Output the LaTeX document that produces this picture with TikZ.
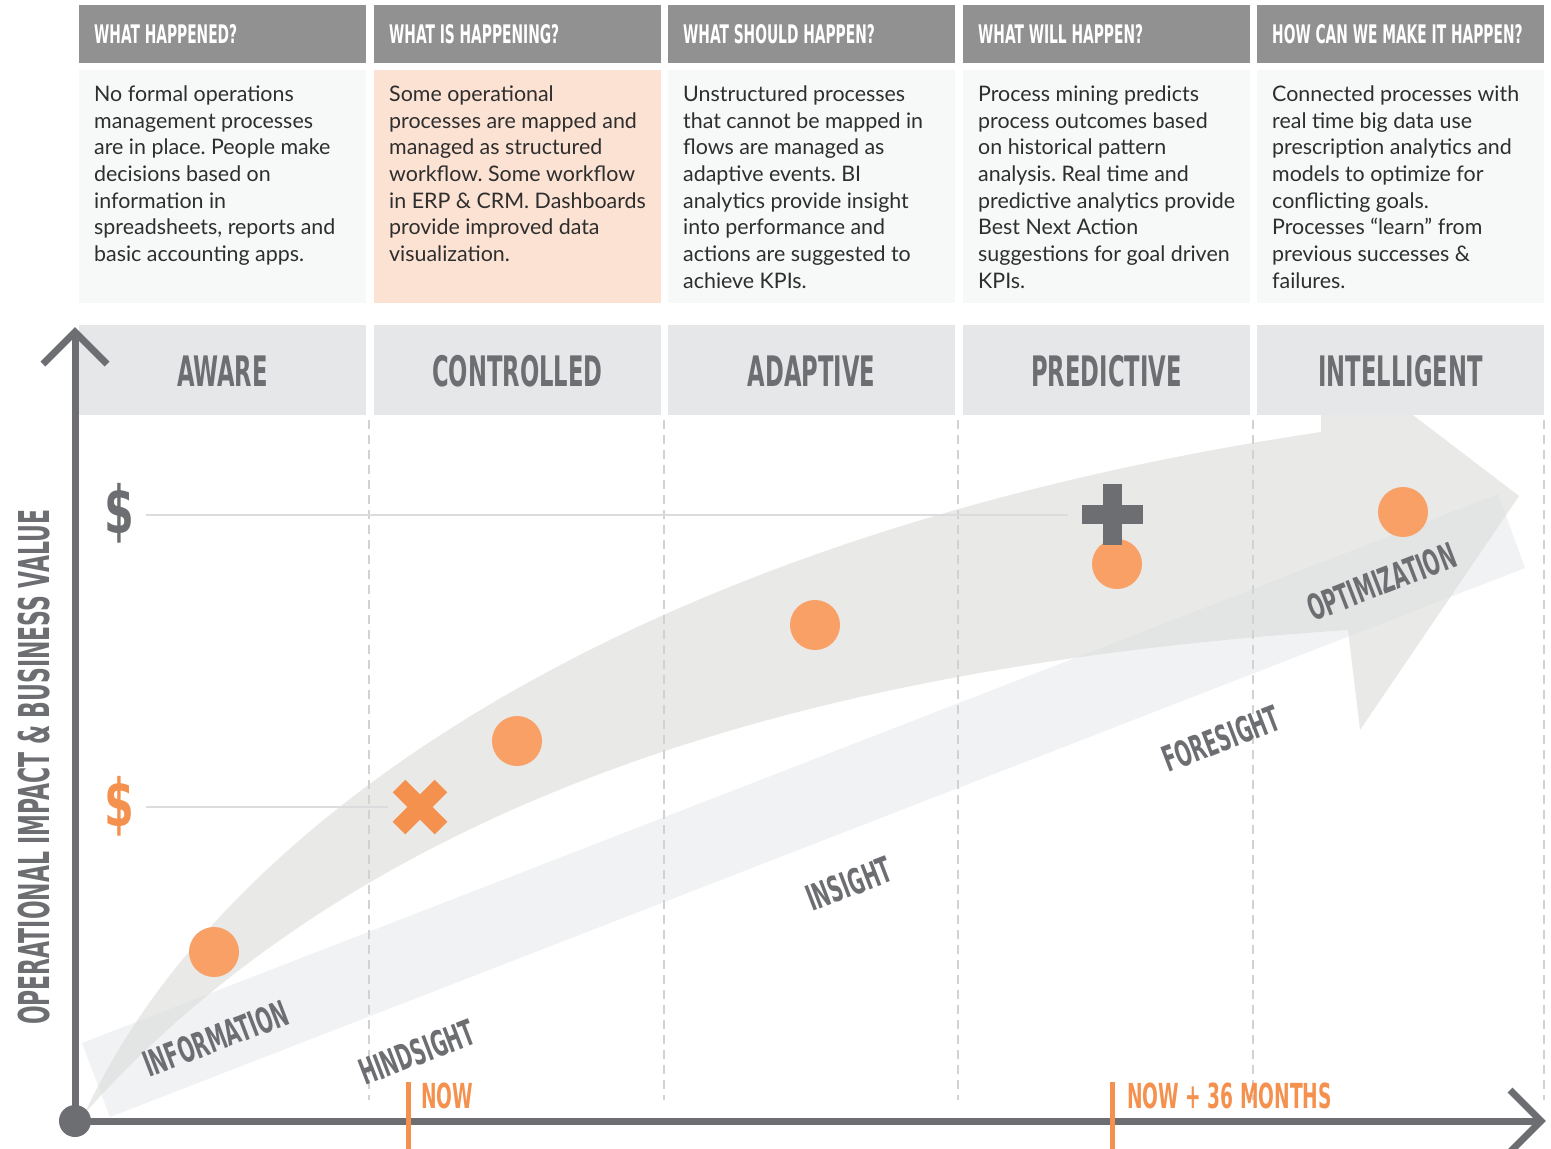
\documentclass[tikz,border=0pt]{standalone}
\usepackage{fontspec}
\usepackage{graphicx}
\setmainfont{Lato}
\newfontfamily\bebas[FakeStretch=0.6]{DejaVu Sans Condensed Bold}
\definecolor{hdrgray}{HTML}{919191}
\definecolor{boxbg}{HTML}{F7F8F8}
\definecolor{peach}{HTML}{FCE2D3}
\definecolor{stagebg}{HTML}{E6E7E8}
\definecolor{axgray}{HTML}{6D6E71}
\definecolor{bodytxt}{HTML}{2E2E2E}
\definecolor{arrowfill}{HTML}{E9E9E7}
\definecolor{bandfill}{HTML}{DCE0E4}
\definecolor{sepgray}{HTML}{D2D2D2}
\definecolor{guidegray}{HTML}{DCDCDF}
\definecolor{dotorange}{HTML}{F9A066}
\definecolor{orangetwo}{HTML}{F5914F}
\frenchspacing
\begin{document}
\begin{tikzpicture}[x=1pt,y=-1pt,
  hdr/.style={fill=hdrgray, minimum width=287pt, minimum height=58pt, inner sep=0pt, anchor=north west},
  bodybox/.style={fill=boxbg, minimum width=287pt, minimum height=233pt, inner sep=0pt, anchor=north west},
  hdrtext/.style={anchor=base west, inner sep=0pt, text=white, font=\bebas\fontsize{25.6}{25.6}\selectfont},
  bodytext/.style={anchor=north west, inner sep=0pt, align=left, text=bodytxt, font=\fontsize{21.4}{26.7}\selectfont},
  stagebox/.style={fill=stagebg, minimum width=287pt, minimum height=90pt, inner sep=0pt, anchor=north west},
  stagetext/.style={anchor=base, inner sep=0pt, text=axgray, font=\bebas\fontsize{42}{42}\selectfont},
  dot/.style={circle, fill=dotorange, minimum size=50pt, inner sep=0pt},
  bandlabel/.style={anchor=base west, inner sep=0pt, rotate=21, text=axgray, font=\bebas\fontsize{35.5}{35.5}\selectfont},
  colsep/.style={draw=sepgray, line width=1.3pt, dash pattern=on 9pt off 6pt},
  guide/.style={draw=guidegray, line width=1.8pt},
  axis/.style={draw=axgray, line width=7pt, miter limit=10},
  tickmark/.style={draw=orangetwo, line width=5pt},
  nowtext/.style={anchor=base west, inner sep=0pt, text=orangetwo, font=\bebas\fontsize{34.5}{34.5}\selectfont},
  dollar/.style={inner sep=0pt, font=\bebas\fontsize{66}{66}\selectfont}
]
\useasboundingbox (0,0) rectangle (1551,1149);
\fill[white] (0,0) rectangle (1551,1149);

% ---------- header row ----------
\node[hdr] (h1) at (79,5) {};
\node[hdr] (h2) at (374,5) {};
\node[hdr] (h3) at (668,5) {};
\node[hdr] (h4) at (963,5) {};
\node[hdr] (h5) at (1257,5) {};
\node[hdrtext] (ht1) at (94,43.3) {WHAT HAPPENED?};
\node[hdrtext] (ht2) at (389,43.3) {WHAT IS HAPPENING?};
\node[hdrtext] (ht3) at (683,43.3) {WHAT SHOULD HAPPEN?};
\node[hdrtext] (ht4) at (978,43.3) {WHAT WILL HAPPEN?};
\node[hdrtext] (ht5) at (1272,43.3) {HOW CAN WE MAKE IT HAPPEN?};

% ---------- description boxes ----------
\node[bodybox] (b1) at (79,70) {};
\node[bodybox, fill=peach] (b2) at (374,70) {};
\node[bodybox] (b3) at (668,70) {};
\node[bodybox] (b4) at (963,70) {};
\node[bodybox] (b5) at (1257,70) {};
\node[bodytext] (t1) at (94,82.6) {\strut No formal operations\\management processes\\are in place. People make\\decisions based on\\information in\\spreadsheets, reports and\\basic accounting apps.};
\node[bodytext] (t2) at (389,82.6) {\strut Some operational\\processes are mapped and\\managed as structured\\workflow. Some workflow\\in ERP \& CRM. Dashboards\\provide improved data\\visualization.};
\node[bodytext] (t3) at (683,82.6) {\strut Unstructured processes\\that cannot be mapped in\\flows are managed as\\adaptive events. BI\\analytics provide insight\\into performance and\\actions are suggested to\\achieve KPIs.};
\node[bodytext] (t4) at (978,82.6) {\strut Process mining predicts\\process outcomes based\\on historical pattern\\analysis. Real time and\\predictive analytics provide\\Best Next Action\\suggestions for goal driven\\KPIs.};
\node[bodytext] (t5) at (1272,82.6) {\strut Connected processes with\\real time big data use\\prescription analytics and\\models to optimize for\\conflicting goals.\\Processes “learn” from\\previous successes \&\\failures.};

% ---------- big curved arrow ----------
\fill[arrowfill] (85,1113) .. controls (210,840) and (600,540) .. (1321,432)
  -- (1321,345) -- (1519,496) -- (1360,730) -- (1348,630)
  .. controls (900,660) and (400,760) .. (85,1113) -- cycle;
% ---------- straight band ----------
\fill[bandfill, opacity=0.4] (82,1043) -- (1498,494) -- (1525,568) -- (110,1117) -- cycle;

% ---------- column separators ----------
\foreach \xx/\nm in {369/s1,664/s2,958/s3,1253/s4,1544/s5}{
  \coordinate (\nm top) at (\xx,420);
  \coordinate (\nm bot) at (\xx,1100);
  \draw[colsep] (\nm top) -- (\nm bot);
}

% ---------- stage boxes ----------
\node[stagebox] (g1) at (79,325) {};
\node[stagebox] (g2) at (374,325) {};
\node[stagebox] (g3) at (668,325) {};
\node[stagebox] (g4) at (963,325) {};
\node[stagebox] (g5) at (1257,325) {};
\node[stagetext] (gt1) at (222.5,386.7) {AWARE};
\node[stagetext] (gt2) at (517.5,386.7) {CONTROLLED};
\node[stagetext] (gt3) at (811.5,386.7) {ADAPTIVE};
\node[stagetext] (gt4) at (1106.5,386.7) {PREDICTIVE};
\node[stagetext] (gt5) at (1400.5,386.7) {INTELLIGENT};

% ---------- value markers ----------
\node[dollar, text=axgray] (d1) at (119,513) {\scalebox{1.2}[1]{\$}};
\node[dollar, text=orangetwo] (d2) at (119,806) {\scalebox{1.2}[1]{\$}};
\coordinate (g1end) at (1068,515);
\coordinate (g2end) at (388,807);
\draw[guide] (146,515) -- (g1end);
\draw[guide] (146,807) -- (g2end);

% ---------- dots ----------
\node[dot] (c1) at (214,952) {};
\node[dot] (c2) at (517,741) {};
\node[dot] (c3) at (815,625) {};
\node[dot] (c4) at (1117,564) {};
\node[dot] (c5) at (1403,512) {};

% plus sign
\fill[axgray] (1082,505) rectangle (1143,524);
\fill[axgray] (1103,484) rectangle (1122,545);
% cross sign
\draw[orangetwo, line width=18pt] (399,786) -- (441,828);
\draw[orangetwo, line width=18pt] (441,786) -- (399,828);

% ---------- band labels ----------
\node[bandlabel] (l1) at (149,1078) {INFORMATION};
\node[bandlabel] (l2) at (365,1086) {HINDSIGHT};
\node[bandlabel] (l3) at (812,912) {INSIGHT};
\node[bandlabel] (l4) at (1168,773) {FORESIGHT};
\node[bandlabel] (l5) at (1313,622) {OPTIMIZATION};

% ---------- axes ----------
\coordinate (O) at (75,1121);
\coordinate (ytop) at (75,332);
\coordinate (xend) at (1541,1121);
\draw[axis] (O) -- (ytop);
\draw[axis] (43,364) -- (ytop) -- (107,364);
\draw[axis] (O) -- (xend);
\draw[axis] (1510,1090) -- (xend) -- (1510,1152);
\fill[axgray] (O) circle (16);

% ---------- time markers ----------
\coordinate (n1a) at (408,1082);
\coordinate (n1b) at (408,1149);
\coordinate (n2a) at (1112,1082);
\coordinate (n2b) at (1112,1149);
\draw[tickmark] (n1a) -- (n1b);
\draw[tickmark] (n2a) -- (n2b);
\node[nowtext] (now1) at (421,1108) {NOW};
\node[nowtext] (now2) at (1127,1108) {NOW + 36 MONTHS};

% ---------- y label ----------
\node[anchor=base west, inner sep=0pt, rotate=90, text=axgray, font=\bebas\fontsize{42.5}{42.5}\selectfont] (ylab) at (49,1025) {\resizebox{515pt}{\height}{OPERATIONAL IMPACT \& BUSINESS VALUE}};
\end{tikzpicture}
\end{document}
